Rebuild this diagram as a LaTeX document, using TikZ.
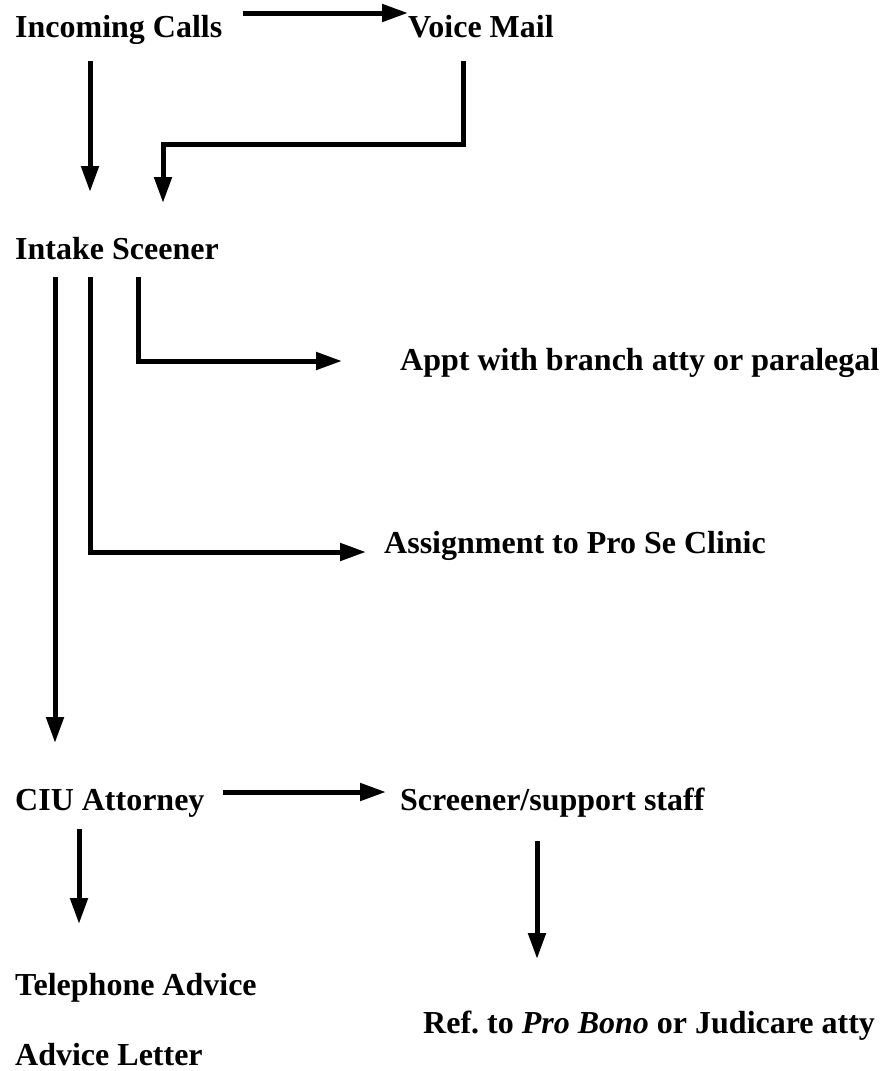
\documentclass[tikz,border=0pt]{standalone}
\usepackage{fontspec}
\setmainfont{Liberation Serif}
\usetikzlibrary{arrows.meta}
\begin{document}
\frenchspacing
\begin{tikzpicture}[x=1pt,y=-1pt,
  lbl/.style={anchor=base west,inner sep=0pt,font=\fontsize{32}{38}\selectfont\bfseries},
  arr/.style={line width=5pt,line join=miter,-{Triangle[length=26pt,width=17pt]}}]
\useasboundingbox (0,0) rectangle (891,1071);
% nodes
\node[lbl] (ic)  at (15,37)   {Incoming Calls};
\node[lbl] (vm)  at (408,37)  {Voice Mail};
\node[lbl] (is)  at (15,259)  {Intake Sceener};
\node[lbl] (ap)  at (400,370) {Appt with branch atty or paralegal};
\node[lbl] (as)  at (384,553) {Assignment to Pro Se Clinic};
\node[lbl] (ciu) at (15,810)  {CIU Attorney};
\node[lbl] (ss)  at (400,810) {Screener/support staff};
\node[lbl] (ta)  at (15,995)  {Telephone Advice};
\node[lbl] (ref) at (423,1033) {Ref.\ to \textit{Pro Bono} or Judicare atty};
\node[lbl] (al)  at (15,1065) {Advice Letter};
% connector ends
\coordinate (icR)  at (243,13);
\coordinate (vmL)  at (408,13);
\coordinate (icD)  at (90,61);
\coordinate (icT)  at (90,192);
\coordinate (vmD)  at (463,61);
\coordinate (vmK1) at (463,144);
\coordinate (vmK2) at (163,144);
\coordinate (vmT)  at (163,203);
\coordinate (isA)  at (55,277);
\coordinate (ciuT) at (55,743);
\coordinate (isB)  at (90,277);
\coordinate (isBK) at (90,552);
\coordinate (asT)  at (366,552);
\coordinate (isC)  at (138,277);
\coordinate (isCK) at (138,361);
\coordinate (apT)  at (342,361);
\coordinate (ciuR) at (223,792);
\coordinate (ssT)  at (386,792);
\coordinate (ciuD) at (79,829);
\coordinate (taT)  at (79,924);
\coordinate (ssD)  at (537,841);
\coordinate (refT) at (537,959);
% connectors
\draw[arr] (icR) -- (vmL);
\draw[arr] (icD) -- (icT);
\draw[arr] (vmD) -- (vmK1) -- (vmK2) -- (vmT);
\draw[arr] (isA) -- (ciuT);
\draw[arr] (isB) -- (isBK) -- (asT);
\draw[arr] (isC) -- (isCK) -- (apT);
\draw[arr] (ciuR) -- (ssT);
\draw[arr] (ciuD) -- (taT);
\draw[arr] (ssD) -- (refT);
\end{tikzpicture}
\end{document}
